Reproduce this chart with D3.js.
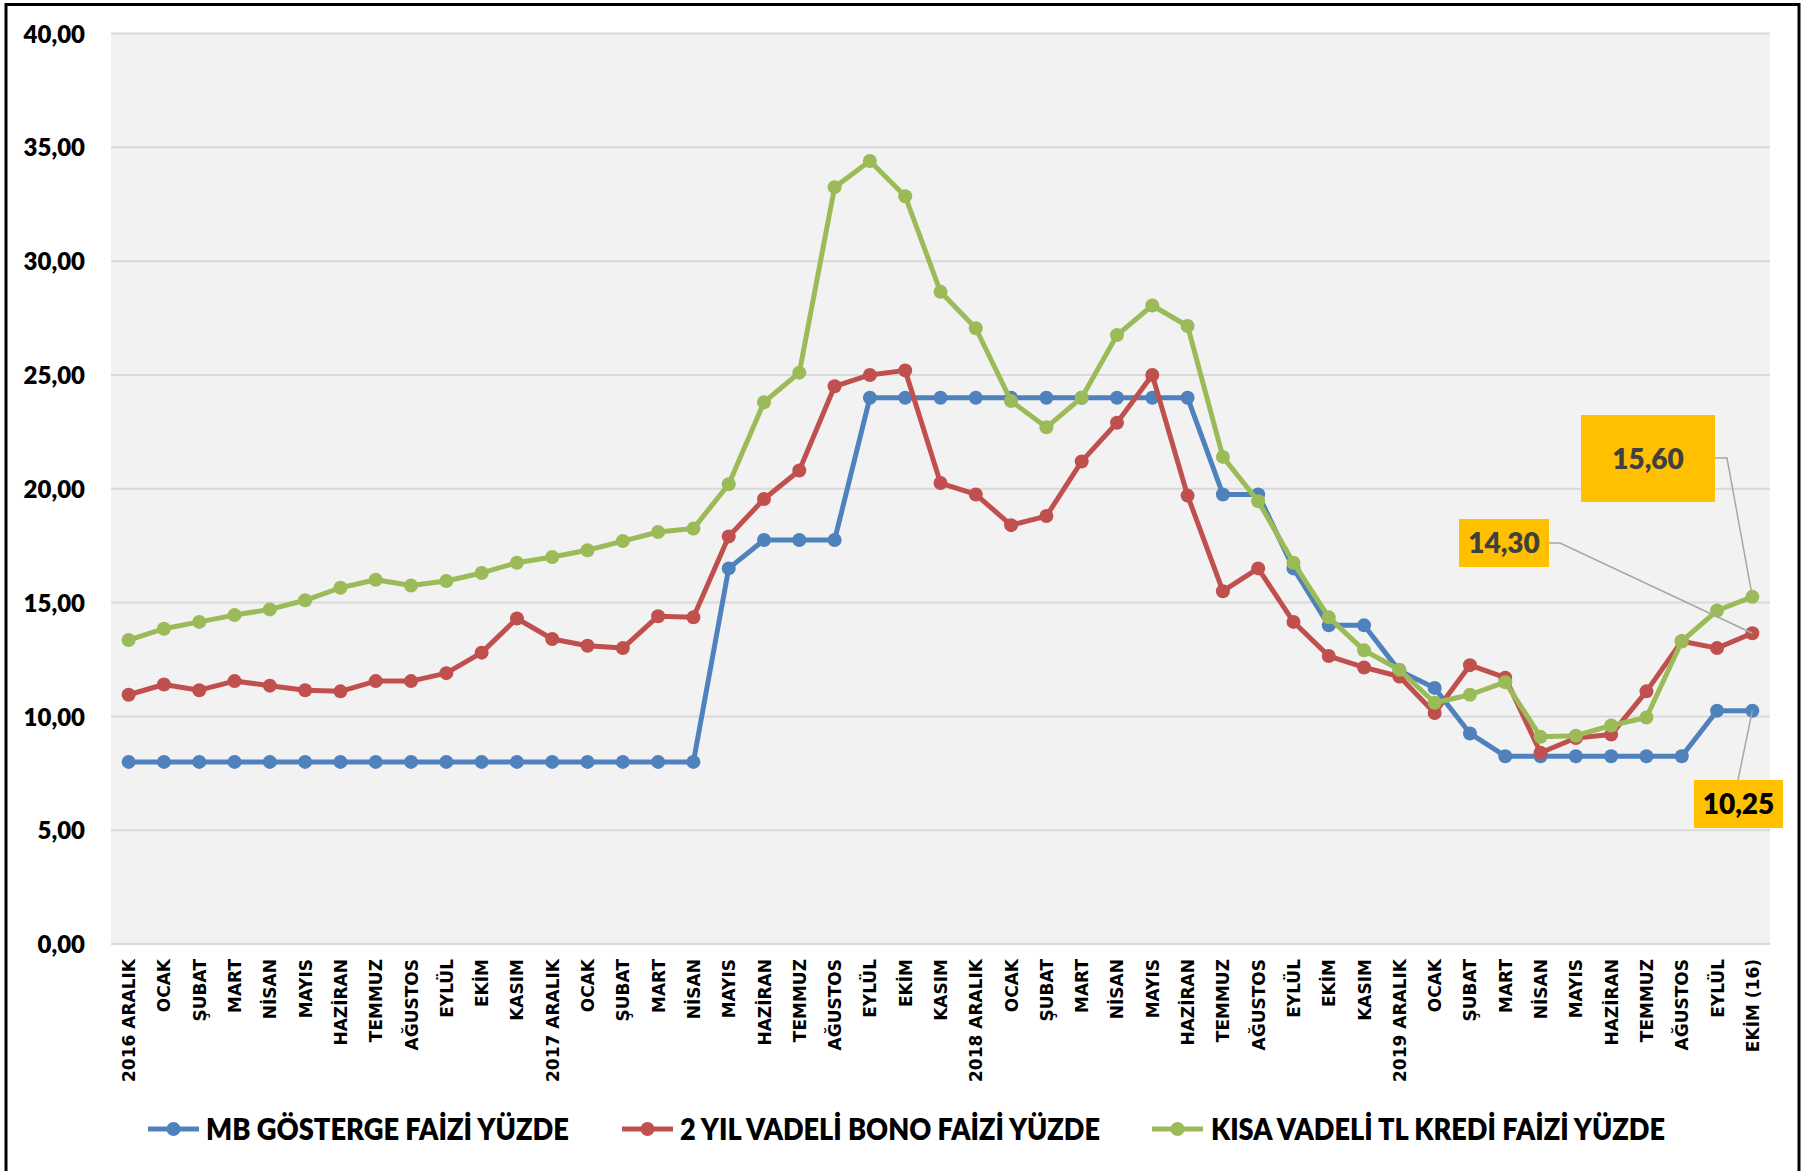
<!DOCTYPE html>
<html>
<head>
<meta charset="utf-8">
<script src="https://cdn.jsdelivr.net/npm/d3@7/dist/d3.min.js"></script>
<style>
  html, body { margin: 0; padding: 0; background: #ffffff; }
  svg { display: block; }
</style>
</head>
<body>
<svg id="chart" width="1816" height="1171"></svg>
<script>
// ---------------- DATA ----------------
const categories = [
  "2016 ARALIK","OCAK","ŞUBAT","MART","NİSAN","MAYIS","HAZİRAN","TEMMUZ","AĞUSTOS","EYLÜL","EKİM","KASIM",
  "2017 ARALIK","OCAK","ŞUBAT","MART","NİSAN","MAYIS","HAZİRAN","TEMMUZ","AĞUSTOS","EYLÜL","EKİM","KASIM",
  "2018 ARALIK","OCAK","ŞUBAT","MART","NİSAN","MAYIS","HAZİRAN","TEMMUZ","AĞUSTOS","EYLÜL","EKİM","KASIM",
  "2019 ARALIK","OCAK","ŞUBAT","MART","NİSAN","MAYIS","HAZİRAN","TEMMUZ","AĞUSTOS","EYLÜL","EKİM (16)"
];

const seriesNames = [
  "MB GÖSTERGE FAİZİ YÜZDE",
  "2 YIL VADELİ BONO FAİZİ YÜZDE",
  "KISA VADELİ TL KREDİ FAİZİ YÜZDE"
];

const mbGosterge = [
  8,8,8,8,8,8,8,8,8,8,8,8,
  8,8,8,8,8,16.5,17.75,17.75,17.75,24,24,24,
  24,24,24,24,24,24,24,19.75,19.75,16.5,14,14,
  12,11.25,9.25,8.25,8.25,8.25,8.25,8.25,8.25,10.25,10.25
];

const bono2Yil = [
  10.95,11.4,11.15,11.55,11.35,11.15,11.1,11.55,11.55,11.9,12.8,14.3,
  13.4,13.1,13.0,14.4,14.35,17.9,19.55,20.8,24.5,25.0,25.2,20.25,
  19.75,18.4,18.8,21.2,22.9,25.0,19.7,15.5,16.5,14.15,12.65,12.15,
  11.75,10.15,12.25,11.7,8.4,9.05,9.2,11.1,13.3,13.0,13.65
];

const krediKisa = [
  13.35,13.85,14.15,14.45,14.7,15.1,15.65,16.0,15.75,15.95,16.3,16.75,
  17.0,17.3,17.7,18.1,18.25,20.2,23.8,25.1,33.25,34.4,32.85,28.65,
  27.05,23.85,22.7,24.0,26.75,28.05,27.15,21.4,19.45,16.75,14.35,12.9,
  12.05,10.6,10.95,11.5,9.1,9.15,9.6,9.95,13.3,14.65,15.25
];

const yTicks = [0,5,10,15,20,25,30,35,40];

const calloutTexts = ["15,60", "14,30", "10,25"];

// ---------------- LAYOUT ----------------
const colors = ["#4F81BD", "#C0504D", "#9BBB59"];
const seriesValues = [mbGosterge, bono2Yil, krediKisa];

const svg = d3.select("#chart");
const W = 1816, H = 1171;
const plot = { left: 111, right: 1770, top: 33.5, bottom: 944 };
const boldFont = "Lato, 'Open Sans', sans-serif";

svg.append("rect").attr("x", 0).attr("y", 0).attr("width", W).attr("height", H).attr("fill", "#ffffff");

const x = d3.scaleBand()
  .domain(d3.range(categories.length))
  .range([plot.left, plot.right])
  .paddingInner(0).paddingOuter(0);

const y = d3.scaleLinear().domain([0, 40]).range([plot.bottom, plot.top]);

const cx = i => x(i) + x.bandwidth() / 2;

// plot background
svg.append("rect")
  .attr("x", plot.left).attr("y", plot.top)
  .attr("width", plot.right - plot.left).attr("height", plot.bottom - plot.top)
  .attr("fill", "#F2F2F2");

// gridlines
svg.append("g")
  .selectAll("line")
  .data(yTicks)
  .join("line")
  .attr("x1", plot.left).attr("x2", plot.right)
  .attr("y1", d => y(d)).attr("y2", d => y(d))
  .attr("stroke", "#D9D9D9").attr("stroke-width", 2);

// y axis labels
const fmt = d => d3.format(".2f")(d).replace(".", ",");
const yAxis = d3.axisLeft(y).tickValues(yTicks).tickFormat(fmt).tickSize(0).tickPadding(0);
const yg = svg.append("g").attr("transform", `translate(85,0)`).call(yAxis);
yg.select(".domain").remove();
yg.selectAll("text")
  .attr("font-family", boldFont)
  .attr("font-weight", 800)
  .attr("font-size", 24)
  .attr("fill", "#000000")
  .attr("dy", "0.36em");

// x axis labels (rotated)
const xg = svg.append("g");
xg.selectAll("text")
  .data(categories)
  .join("text")
  .attr("transform", (d, i) => `translate(${cx(i) + 6.5},959) rotate(-90)`)
  .attr("text-anchor", "end")
  .attr("font-family", "'DejaVu Sans', Verdana, sans-serif")
  .attr("font-weight", 700)
  .attr("font-size", 17)
  .attr("fill", "#000000")
  .text(d => d);

// series lines and markers
const line = d3.line().x((d, i) => cx(i)).y(d => y(d));
seriesValues.forEach((vals, s) => {
  const g = svg.append("g");
  g.append("path")
    .datum(vals)
    .attr("d", line)
    .attr("fill", "none")
    .attr("stroke", colors[s])
    .attr("stroke-width", 5)
    .attr("stroke-linejoin", "round");
  g.selectAll("circle")
    .data(vals)
    .join("circle")
    .attr("cx", (d, i) => cx(i))
    .attr("cy", d => y(d))
    .attr("r", 7)
    .attr("fill", colors[s]);
});

// callouts
const last = categories.length - 1;
const callouts = [
  { s: 2, text: calloutTexts[0], box: [1581, 415, 134, 87], fill: "#404040",
    leader: b => [[b[0] + b[2], 458], [1727, 458]] },
  { s: 1, text: calloutTexts[1], box: [1459, 519, 90, 48], fill: "#404040",
    leader: b => [[b[0] + b[2], 543], [1560, 543]] },
  { s: 0, text: calloutTexts[2], box: [1694, 780, 89, 48], fill: "#000000",
    leader: b => [[1738, b[1]]] }
];
callouts.forEach(c => {
  const pts = c.leader(c.box).concat([[cx(last), y(seriesValues[c.s][last])]]);
  svg.append("path")
    .attr("d", d3.line()(pts))
    .attr("fill", "none")
    .attr("stroke", "#A6A6A6")
    .attr("stroke-width", 1.5);
});
callouts.forEach(c => {
  const [bx, by, bw, bh] = c.box;
  svg.append("rect")
    .attr("x", bx).attr("y", by).attr("width", bw).attr("height", bh)
    .attr("fill", "#FFC000");
  svg.append("text")
    .attr("x", bx + bw / 2).attr("y", by + bh / 2)
    .attr("dy", "0.36em")
    .attr("text-anchor", "middle")
    .attr("font-family", boldFont)
    .attr("font-weight", 800)
    .attr("font-size", 28)
    .attr("fill", c.fill)
    .text(c.text);
});

// legend
const legendItems = [
  { lx: 148, tx: 206, tw: 363 },
  { lx: 622, tx: 680, tw: 420 },
  { lx: 1152, tx: 1211, tw: 454 }
];
const ly = 1129;
legendItems.forEach((it, s) => {
  const g = svg.append("g");
  g.append("line")
    .attr("x1", it.lx).attr("x2", it.lx + 51)
    .attr("y1", ly).attr("y2", ly)
    .attr("stroke", colors[s]).attr("stroke-width", 5);
  g.append("circle")
    .attr("cx", it.lx + 25.5).attr("cy", ly).attr("r", 7)
    .attr("fill", colors[s]);
  g.append("text")
    .attr("x", it.tx).attr("y", ly)
    .attr("dy", "0.36em")
    .attr("font-family", boldFont)
    .attr("font-weight", 800)
    .attr("font-size", 30)
    .attr("textLength", it.tw)
    .attr("lengthAdjust", "spacingAndGlyphs")
    .attr("fill", "#000000")
    .text(seriesNames[s]);
});

// outer border
svg.append("rect")
  .attr("x", 6).attr("y", 4.5).attr("width", 1793).attr("height", 1180)
  .attr("fill", "none").attr("stroke", "#000000").attr("stroke-width", 3);
</script>
</body>
</html>
